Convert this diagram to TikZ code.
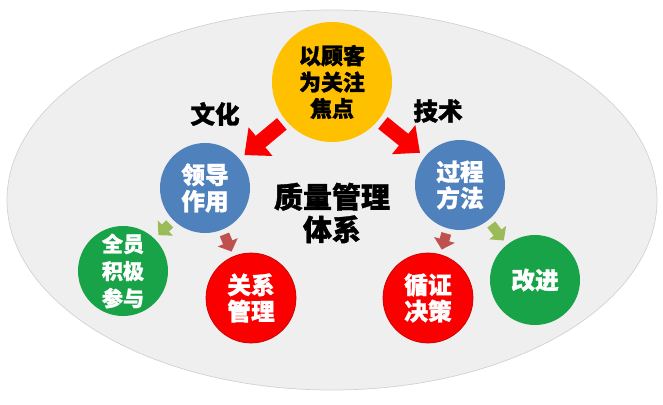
\documentclass[tikz,border=0pt]{standalone}
\usepackage{fontspec}
\newfontfamily\cjk{Noto Sans CJK SC}[BoldFeatures={FakeBold=1.2}]
\usetikzlibrary{positioning,arrows.meta,shapes.geometric}

\definecolor{qmyellow}{RGB}{255,192,0}
\definecolor{qmblue}{RGB}{79,129,189}
\definecolor{qmgreen}{RGB}{24,163,72}
\definecolor{qmred}{RGB}{250,0,0}
\definecolor{qmolive}{RGB}{155,187,89}
\definecolor{qmbrick}{RGB}{192,80,77}
\definecolor{qmback}{RGB}{239,239,240}

\tikzset{
  principle/.style={circle, minimum size=1.8cm, inner sep=0pt, align=center,
    text=white, font=\cjk\bfseries\fontsize{13.5}{15}\selectfont},
  major/.style={color=qmred, line width=0.3cm, -{Triangle[width=0.72cm,length=0.42cm]},
    shorten <=0.1cm, shorten >=0.12cm},
  minor/.style={line width=0.2cm, -{Triangle[width=0.42cm,length=0.2cm]},
    shorten <=0.1cm, shorten >=0.1cm},
  caption/.style={font=\cjk\bfseries\fontsize{14}{16}\selectfont}
}

\begin{document}
\begin{tikzpicture}[on grid]
  \useasboundingbox (0,0) rectangle (13.26,8.08);
  \node[ellipse, draw=gray!35, fill=qmback, minimum width=13cm, minimum height=7.6cm] (frame) at (6.64,4.08) {};

  \node[principle, fill=qmyellow, minimum size=2.4cm, text=black, font=\cjk\bfseries\fontsize{12.5}{15}\selectfont] (focus) [above=2.36cm of frame] {以顾客\\为关注\\焦点};
  \node[principle, fill=qmblue] (lead) [below left=2.12cm and 2.54cm of focus] {领导\\作用};
  \node[principle, fill=qmblue] (process) [below right=2.06cm and 2.56cm of focus] {过程\\方法};
  \node[principle, fill=qmgreen, font=\cjk\bfseries\fontsize{12}{15.5}\selectfont] (involve) [below left=1.66cm and 1.64cm of lead] {全员\\积极\\参与};
  \node[principle, fill=qmred, draw=red!80!black] (relation) [below right=2.2cm and 0.92cm of lead] {关系\\管理};
  \node[principle, fill=qmred, draw=red!80!black] (decide) [below left=2.26cm and 0.64cm of process] {循证\\决策};
  \node[principle, fill=qmgreen] (improve) [below right=1.9cm and 1.5cm of process] {改进};

  \node[caption] (culture) [below left=0.64cm and 2.34cm of focus] {文化};
  \node[caption] (technique) [below right=0.58cm and 2.12cm of focus] {技术};
  \node[caption, align=center, font=\cjk\bfseries\fontsize{16.5}{18.5}\selectfont] (system) [below=2.62cm of focus] {质量管理\\体系};

  \path[major]
    (focus) edge (lead)
    (focus) edge (process);
  \path[minor]
    (lead) edge[qmolive] (involve)
    (lead) edge[qmbrick] (relation)
    (process) edge[qmbrick] (decide)
    (process) edge[qmolive] (improve);
\end{tikzpicture}
\end{document}
